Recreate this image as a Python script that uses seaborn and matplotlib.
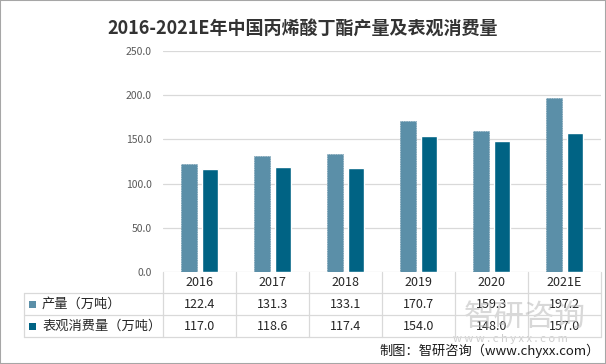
import matplotlib
matplotlib.use('Agg')
import matplotlib.pyplot as plt
import matplotlib.transforms as mtransforms
from matplotlib.patches import Rectangle
import seaborn as sns
import pandas as pd

# Data
years = ['2016', '2017', '2018', '2019', '2020', '2021E']
output = [122.4, 131.3, 133.1, 170.7, 159.3, 197.2]
consumption = [117.0, 118.6, 117.4, 154.0, 148.0, 157.0]
series_names = ['产量（万吨）', '表观消费量（万吨）']
colors = ['#5B8FA8', '#006384']

title = '2016-2021E年中国丙烯酸丁酯产量及表观消费量'
source = '制图：智研咨询（www.chyxx.com）'

W, H = 606, 364

sns.set_style('white')
plt.rcParams['font.family'] = ['Noto Sans CJK SC', 'DejaVu Sans']

df = pd.DataFrame({
    'year': years * 2,
    'value': output + consumption,
    'series': [series_names[0]] * len(years) + [series_names[1]] * len(years),
})

fig = plt.figure(figsize=(W / 100, H / 100), dpi=100)
ax = fig.add_axes([163 / W, 1 - 272 / H, (601 - 163) / W, (272 - 51) / H])

sns.barplot(data=df, x='year', y='value', hue='series', palette=colors,
            width=0.56, gap=0.2, saturation=1, legend=False, ax=ax)

# faint dotted edge on the lighter series, like the original
for patch in ax.containers[0]:
    patch.set_edgecolor('#52849d')
    patch.set_linestyle((0, (1, 1.5)))
    patch.set_linewidth(0.5)

ax.set_xlim(-0.5, len(years) - 0.5)
ax.set_ylim(0, 250)
ax.set_yticks([0, 50, 100, 150, 200, 250])
ax.set_yticklabels([f'{v:.1f}' for v in [0, 50, 100, 150, 200, 250]],
                   color='#595959', fontsize=7.5)
ax.tick_params(axis='y', length=0, pad=8)
ax.set_xticks([])
ax.set_xlabel('')
ax.set_ylabel('')
ax.grid(axis='y', color='#d9d9d9', linewidth=0.9)
ax.set_axisbelow(True)
for s in ax.spines.values():
    s.set_visible(False)

# data table under the plot: x in data units, y in figure fraction
trans = mtransforms.blended_transform_factory(ax.transData, fig.transFigure)
def fy(p):
    return 1 - p / H

line_c = '#d9d9d9'
for i in range(len(years) + 1):
    ax.plot([i - 0.5, i - 0.5], [fy(272), fy(337)], transform=trans,
            color=line_c, lw=0.9, clip_on=False)
for p in [293, 315, 337]:
    fig.add_artist(plt.Line2D([24 / W, 601 / W], [fy(p), fy(p)], color=line_c, lw=0.9))
fig.add_artist(plt.Line2D([24 / W, 24 / W], [fy(293), fy(337)], color=line_c, lw=0.9))

# watermark (drawn first so the table text sits on top)
fig.text(525 / W, fy(317), '智研咨询', ha='center', va='center', fontsize=22,
         color='#b8b8b8', alpha=0.55, zorder=0)
fig.text(510 / W, fy(339), 'w w w . c h y x x . c o m', ha='center', va='center',
         fontsize=8, color='#b8b8b8', alpha=0.7, zorder=0)

for i, y in enumerate(years):
    ax.text(i, fy(283), y, transform=trans, ha='center', va='center',
            fontsize=9, color='#262626')

rows = [(output, 304), (consumption, 326)]
for k, (vals, yp) in enumerate(rows):
    for i, v in enumerate(vals):
        ax.text(i, fy(yp), f'{v:.1f}', transform=trans, ha='center', va='center',
                fontsize=9, color='#262626')
    fig.add_artist(Rectangle((29 / W, fy(yp + 3.5)), 6.5 / W, 7 / H,
                             facecolor=colors[k], edgecolor='none'))
    fig.text(42 / W, fy(yp), series_names[k], ha='left', va='center',
             fontsize=9.5, color='#262626')

# title and source
fig.text(303 / W, fy(29), title, ha='center', va='center', fontsize=13,
         fontweight='bold', color='#333333')
fig.text(600 / W, fy(351), source, ha='right', va='center', fontsize=9.5,
         color='#1a1a1a')

# outer frame
fig.add_artist(Rectangle((0, 0), 1, 1, transform=fig.transFigure, fill=False,
                         edgecolor='#a6a6a6', lw=1.5))

fig.savefig('out.png', dpi=100)
